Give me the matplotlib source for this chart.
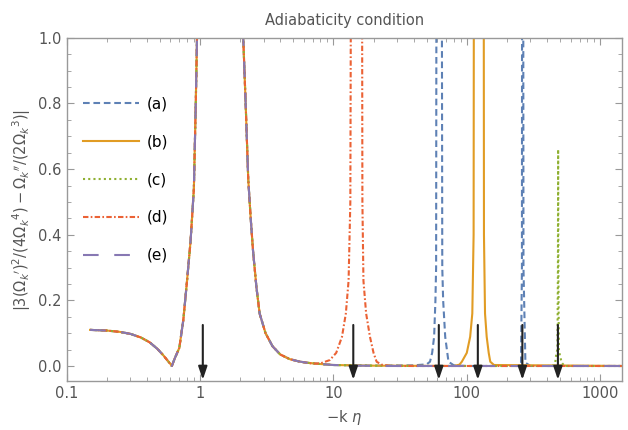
import matplotlib
matplotlib.use("Agg")
import matplotlib.pyplot as plt
from matplotlib.ticker import FixedLocator, MultipleLocator, LogLocator, NullFormatter

# shared part of all five curves (0.15 .. 6.3)
base_x = [0.15, 0.2, 0.25, 0.3, 0.36, 0.42, 0.48, 0.53, 0.56, 0.6, 0.615, 0.65, 0.7, 0.75,
          0.8, 0.85, 0.9, 0.93, 0.95, 0.97, 2.0, 2.11, 2.2, 2.3, 2.4, 2.5, 2.65, 2.8, 3.1,
          3.5, 4.0, 4.7, 5.5, 6.3]
base_y = [0.11, 0.108, 0.104, 0.098, 0.087, 0.072, 0.052, 0.033, 0.021, 0.006, 0.0, 0.025,
          0.055, 0.14, 0.26, 0.38, 0.54, 0.8, 1.0, 1.3, 1.4, 1.0, 0.8, 0.57, 0.45, 0.35, 0.24,
          0.16, 0.1, 0.06, 0.035, 0.021, 0.014, 0.01]

# tails of each curve beyond 6.3
a_x = [8, 10, 20, 40, 50, 53, 55, 56.9, 58.2, 58.9, 59.5, 64.6, 65.5, 66.5, 68.9, 72.9, 80, 100,
       240, 255, 259, 261, 263, 266, 275, 300, 1450]
a_y = [0.006, 0.003, 0.001, 0.002, 0.005, 0.013, 0.04, 0.089, 0.2, 0.3, 2, 2, 0.3, 0.2, 0.089,
       0.013, 0.002, 0, 0, 0.01, 0.3, 3, 3, 0.3, 0.01, 0, 0]
b_x = [8, 10, 20, 80, 88, 91.8, 100, 106, 110, 112.5, 113.5, 133.5, 134.5, 137, 141, 146, 150, 160, 1450]
b_y = [0.006, 0.003, 0.001, 0, 0.004, 0.013, 0.04, 0.089, 0.16, 0.4, 2, 2, 0.4, 0.16, 0.089, 0.04,
       0.013, 0.003, 0]
c_x = [8, 10, 20, 40, 440, 460, 470, 478, 482, 484, 486, 490, 500, 515, 540, 1450]
c_y = [0.006, 0.003, 0.001, 0, 0, 0.01, 0.04, 0.05, 0.3, 0.66, 0.3, 0.05, 0.03, 0.01, 0, 0]
d_x = [7, 8, 9.4, 10.5, 11.6, 12.4, 13.0, 13.4, 13.7, 16.3, 16.5, 16.8, 17.6, 18.8, 20, 21.1,
       23, 26, 30, 1450]
d_y = [0.007, 0.008, 0.018, 0.04, 0.089, 0.16, 0.26, 0.5, 2, 2, 0.5, 0.26, 0.16, 0.089, 0.04,
       0.013, 0.004, 0.001, 0, 0]
e_x = [8, 10, 15, 25, 1450]
e_y = [0.006, 0.003, 0.001, 0, 0]

labels = ["(a)", "(b)", "(c)", "(d)", "(e)"]
arrow_x = [1.05, 14.1, 61.7, 121, 261, 482]

colors = ["#5E81B5", "#E19C24", "#8FB032", "#EB6235", "#8778B3"]
styles = [(0, (3.2, 1.8)), "-", (0, (1, 1.5)), (0, (2.6, 1.1, 0.8, 1.1)), (0, (7.5, 7.5))]
gray = "#555555"

fig = plt.figure(figsize=(6.28, 4.30), dpi=100)
ax = fig.add_axes([0.106, 0.113, 0.884, 0.799])

tails = [(a_x, a_y), (b_x, b_y), (c_x, c_y), (d_x, d_y), (e_x, e_y)]
for (tx, ty), lab, col, ls in zip(tails, labels, colors, styles):
    ax.plot(base_x + tx, base_y + ty, color=col, ls=ls, lw=1.5, label=lab)

for x in arrow_x:
    ax.annotate("", xy=(x, -0.042), xytext=(x, 0.125),
                arrowprops=dict(arrowstyle="-|>,head_length=0.65,head_width=0.22",
                                color="#222222", lw=1.5, mutation_scale=12,
                                shrinkA=0, shrinkB=0))

ax.set_xscale("log")
ax.set_xlim(0.1, 1450)
ax.set_ylim(-0.047, 1.0)

ax.xaxis.set_major_locator(FixedLocator([0.1, 1, 10, 100, 1000]))
ax.set_xticklabels(["0.1", "1", "10", "100", "1000"])
ax.xaxis.set_minor_locator(LogLocator(base=10, subs=range(2, 10)))
ax.xaxis.set_minor_formatter(NullFormatter())
ax.yaxis.set_major_locator(FixedLocator([0, 0.2, 0.4, 0.6, 0.8, 1.0]))
ax.set_yticklabels(["0.0", "0.2", "0.4", "0.6", "0.8", "1.0"])
ax.yaxis.set_minor_locator(MultipleLocator(0.05))

ax.tick_params(which="both", direction="in", top=True, right=True, colors="#999999",
               labelcolor=gray, labelsize=10.5)
ax.tick_params(which="major", length=5, width=0.8)
ax.tick_params(which="minor", length=3, width=0.6)
for s in ax.spines.values():
    s.set_color("#999999")
    s.set_linewidth(1.0)

ax.set_xlabel(r"$-$k $\eta$", color=gray, fontsize=10.5, labelpad=5)
ax.set_ylabel(r"$|3(\Omega_k{}')^2/(4\Omega_k{}^4)-\Omega_k{}''/(2\Omega_k{}^3)|$",
              color=gray, fontsize=10.5, labelpad=4)
ax.set_title("Adiabaticity condition", color=gray, fontsize=10.5, pad=9)

leg = ax.legend(loc="upper left", bbox_to_anchor=(0.029, 0.83), frameon=False,
                borderpad=0, borderaxespad=0, handlelength=3.7, handletextpad=0.5,
                labelspacing=1.5, fontsize=11)

fig.savefig("out.png", dpi=100)
